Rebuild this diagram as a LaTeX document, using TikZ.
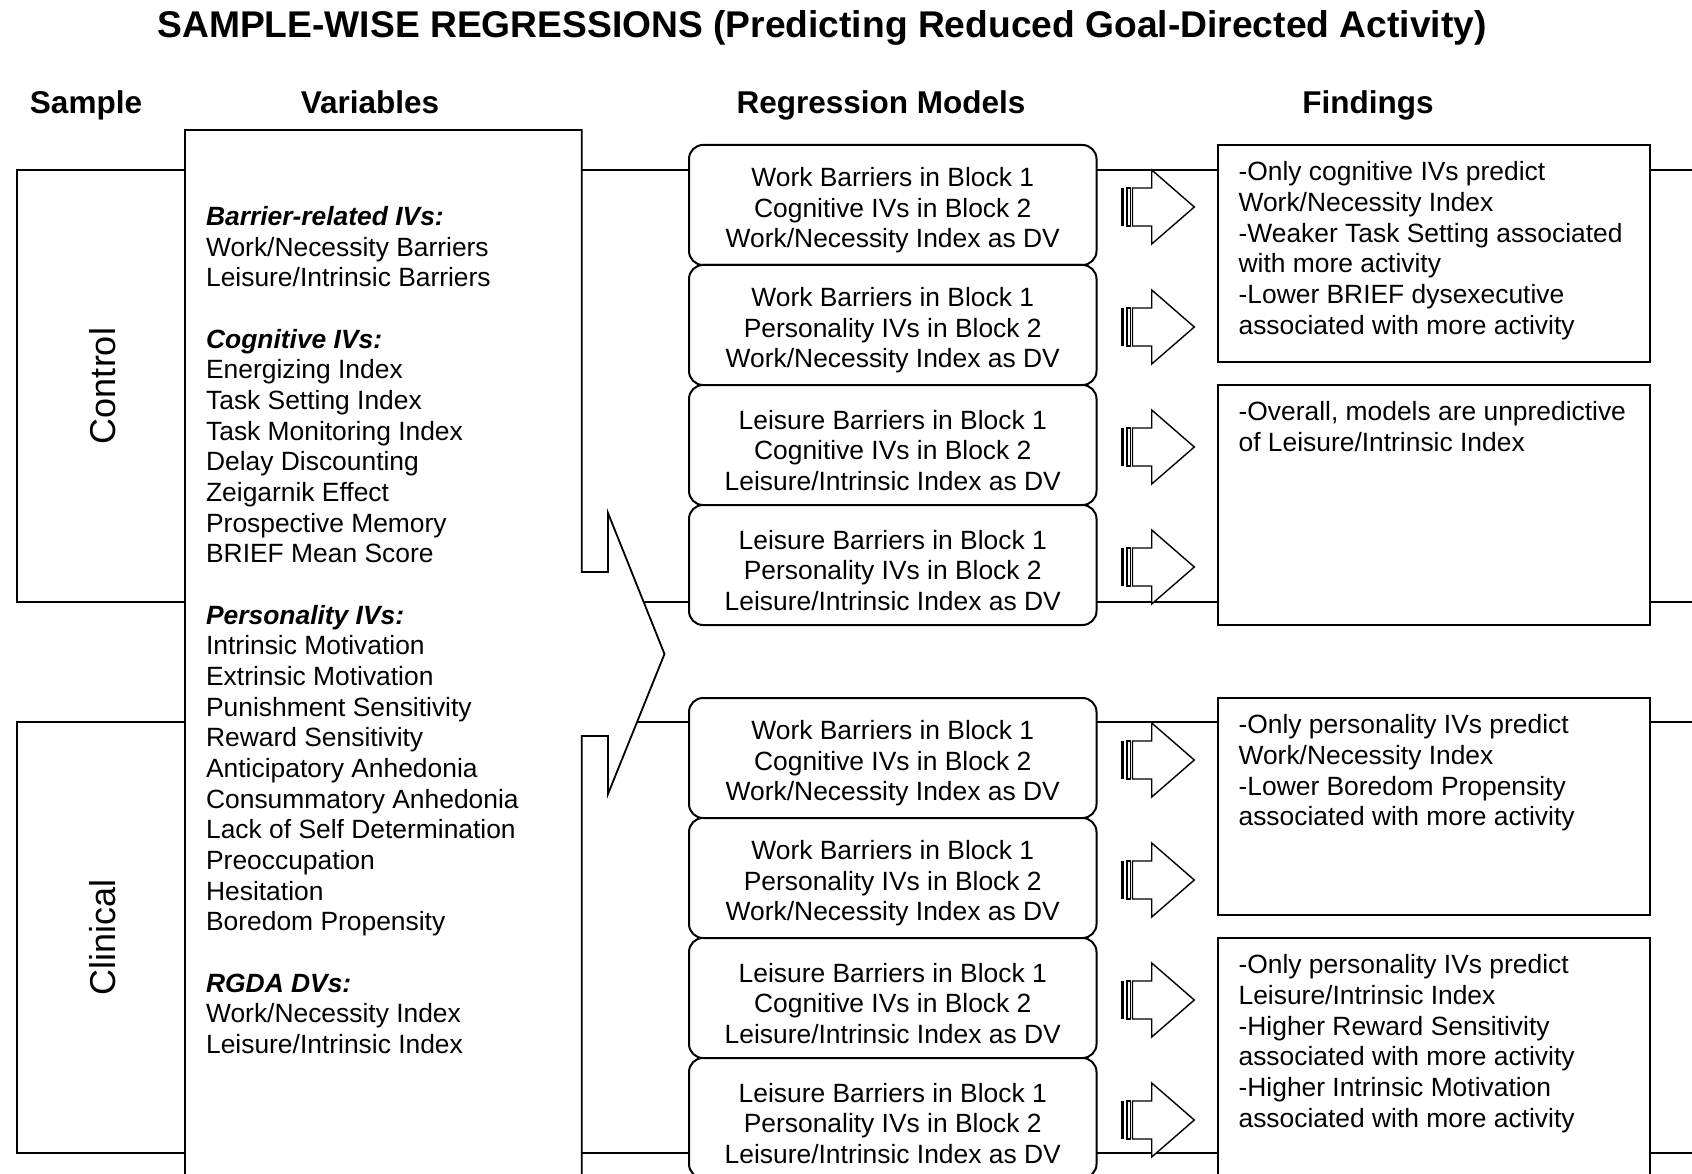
\documentclass[tikz,border=0pt]{standalone}
\usepackage{fontspec}
\setmainfont{Liberation Sans}
\usetikzlibrary{positioning}

\newcommand{\bodyfont}{\fontsize{26.4}{30.66}\selectfont}
% three centred lines, first one pushed down a little
\newcommand{\modeltext}[3]{\rule{0pt}{30pt}#1\\#2\\#3}

\tikzset{
  stripe arrow/.pic={
    \fill (0,-19) rectangle (3.3,19);
    \draw[fill=white] (6,-19) rectangle (9.5,19);
    \draw[fill=white] (11.5,-19) -- (30.7,-19) -- (30.7,-37) -- (73.3,0)
      -- (30.7,37) -- (30.7,19) -- (11.5,19) -- cycle;
  }
}

\begin{document}
\begin{tikzpicture}[x=1pt, y=-1pt, node distance=120pt, line width=1.6pt,
  sample box/.style={draw, line width=1.6pt},
  sample label/.style={rotate=90, inner sep=0pt, font=\fontsize{36}{40}\selectfont},
  head/.style={anchor=base, inner sep=0pt, font=\bfseries\fontsize{31.5}{36}\selectfont},
  model box/.style={draw, fill=white, rounded corners=14pt, line width=2pt,
    minimum width=407.5pt, minimum height=120pt, inner sep=0pt, align=center, font=\bodyfont},
  finding box/.style={draw, fill=white, line width=2pt, minimum width=432.4pt, anchor=north west},
  plain text/.style={anchor=north west, inner sep=0pt, align=left, font=\bodyfont}]

\fill[white] (0,0) rectangle (1692,1174);
\useasboundingbox (0,0) rectangle (1692,1174);
\clip (0,0) rectangle (1692,1174);

% title and column heads
\node[head, font=\bfseries\fontsize{37.2}{42}\selectfont] (title) at (822,38)
  {SAMPLE-WISE REGRESSIONS (Predicting Reduced Goal-Directed Activity)};
\node[head] (hsample) at (86,113.5) {Sample};
\node[head] (hvars)   at (370,113.5) {Variables};
\node[head] (hmodels) at (881,113.5) {Regression Models};
\node[head] (hfind)   at (1368,113.5) {Findings};

% the two samples
\draw[sample box] (17,170) rectangle (1720,601.7);
\draw[sample box] (17,722) rectangle (1720,1152.7);
\node[sample label] (control)  at (102.5,386) {Control};
\node[sample label] (clinical) at (102.5,937.5) {Clinical};

% variables callout
\draw[fill=white, line width=1.8pt] (185,130) -- (581.7,130) -- (581.7,572) -- (608,572)
  -- (608,513) -- (664.5,654) -- (608,794) -- (608,736) -- (581.7,736)
  -- (581.7,1200) -- (185,1200) -- cycle;
\node[plain text] (vars) at (205.3,205.7) {\textbf{\textit{Barrier-related IVs:}}\\
  Work/Necessity Barriers\\
  Leisure/Intrinsic Barriers\\[30.66pt]
  \textbf{\textit{Cognitive IVs:}}\\
  Energizing Index\\
  Task Setting Index\\
  Task Monitoring Index\\
  Delay Discounting\\
  Zeigarnik Effect\\
  Prospective Memory\\
  BRIEF Mean Score\\[30.66pt]
  \textbf{\textit{Personality IVs:}}\\
  Intrinsic Motivation\\
  Extrinsic Motivation\\
  Punishment Sensitivity\\
  Reward Sensitivity\\
  Anticipatory Anhedonia\\
  Consummatory Anhedonia\\
  Lack of Self Determination\\
  Preoccupation\\
  Hesitation\\
  Boredom Propensity\\[30.66pt]
  \textbf{\textit{RGDA DVs:}}\\
  Work/Necessity Index\\
  Leisure/Intrinsic Index};

% regression models
\node[model box] (r1) at (892.75,205) {\modeltext{Work Barriers in Block 1}{Cognitive IVs in Block 2}{Work/Necessity Index as DV}};
\node[model box, below of=r1] (r2) {\modeltext{Work Barriers in Block 1}{Personality IVs in Block 2}{Work/Necessity Index as DV}};
\node[model box, below of=r2] (r3) {\modeltext{Leisure Barriers in Block 1}{Cognitive IVs in Block 2}{Leisure/Intrinsic Index as DV}};
\node[model box, below of=r3] (r4) {\modeltext{Leisure Barriers in Block 1}{Personality IVs in Block 2}{Leisure/Intrinsic Index as DV}};
\node[model box] (r5) at (892.75,758) {\modeltext{Work Barriers in Block 1}{Cognitive IVs in Block 2}{Work/Necessity Index as DV}};
\node[model box, below of=r5] (r6) {\modeltext{Work Barriers in Block 1}{Personality IVs in Block 2}{Work/Necessity Index as DV}};
\node[model box, below of=r6] (r7) {\modeltext{Leisure Barriers in Block 1}{Cognitive IVs in Block 2}{Leisure/Intrinsic Index as DV}};
\node[model box, below of=r7] (r8) {\modeltext{Leisure Barriers in Block 1}{Personality IVs in Block 2}{Leisure/Intrinsic Index as DV}};

\foreach \i in {1,...,8}
  \pic[line width=1.4pt] at ([shift={(23.5,2)}]r\i.east) {stripe arrow};

% findings
\coordinate (fx) at (1217,0);
\node[finding box, minimum height=216.5pt] (fa) at (r1.north -| fx) {};
\node[finding box, minimum height=240pt]   (fb) at (r3.north -| fx) {};
\node[finding box, minimum height=216.5pt] (fc) at (r5.north -| fx) {};
\node[finding box, minimum height=240pt]   (fd) at (r7.north -| fx) {};

\node[plain text] (ta) at ([shift={(20.8,17)}]fa.north west) {-Only cognitive IVs predict\\
  Work/Necessity Index\\
  -Weaker Task Setting associated\\
  with more activity\\
  -Lower BRIEF dysexecutive\\
  associated with more activity};
\node[plain text] (tb) at ([shift={(20.8,17)}]fb.north west) {-Overall, models are unpredictive\\
  of Leisure/Intrinsic Index};
\node[plain text] (tc) at ([shift={(20.8,17)}]fc.north west) {-Only personality IVs predict\\
  Work/Necessity Index\\
  -Lower Boredom Propensity\\
  associated with more activity};
\node[plain text] (td) at ([shift={(20.8,17)}]fd.north west) {-Only personality IVs predict\\
  Leisure/Intrinsic Index\\
  -Higher Reward Sensitivity\\
  associated with more activity\\
  -Higher Intrinsic Motivation\\
  associated with more activity};
\end{tikzpicture}
\end{document}
